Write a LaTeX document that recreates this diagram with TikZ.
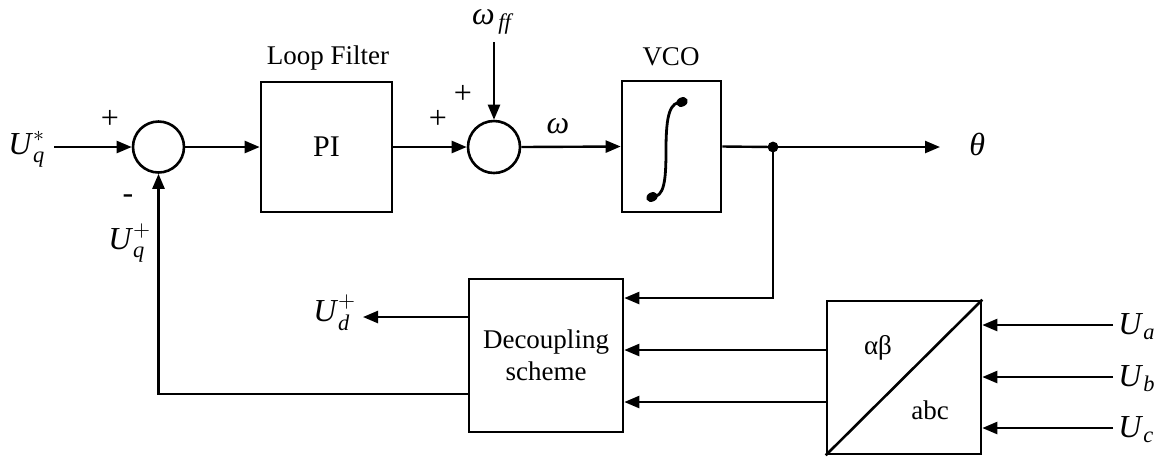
\documentclass[tikz,border=0pt]{standalone}
\usepackage{amsmath}
\usepackage{fontspec}
\setmainfont{Liberation Serif}
\usetikzlibrary{arrows.meta}
\begin{document}
\begin{tikzpicture}[x=0.5pt,y=-0.5pt,
  box/.style={draw, line width=1.3pt, inner sep=0pt},
  sumc/.style={draw, circle, line width=1.3pt, minimum size=25.5pt, inner sep=0pt},
  arr/.style={line width=1.2pt, -{Triangle[length=7.5pt,width=6pt]}},
  ln/.style={line width=1.2pt},
  lbl/.style={font=\fontsize{13.5}{16}\selectfont, inner sep=0pt},
  pm/.style={font=\fontsize{16}{18}\selectfont, inner sep=0pt},
  sym/.style={font=\fontsize{16}{18}\selectfont, inner sep=0pt}]
\useasboundingbox (0,0) rectangle (1161,457);

% blocks
\node[sumc] (s1) at (158.5,147) {};
\node[box, font=\fontsize{15}{17}\selectfont, minimum width=65.5pt, minimum height=65pt] (pi) at (326.5,147) {PI};
\node[sumc, minimum size=26pt] (s2) at (494,147) {};
\node[box, minimum width=49.5pt, minimum height=65.5pt] (vco) at (671.5,146.5) {};
\node[box, lbl, minimum width=77pt, minimum height=76.5pt, align=center] (dec) at (546,355.5) {Decoupling\\scheme};
\node[box, minimum width=77pt, minimum height=76.5pt] (tr) at (904,377.5) {};
\draw[line width=1.3pt] (tr.south west) -- (tr.north east);
\node[lbl] (ab) at (878,348) {αβ};
\node[lbl] (abc) at (930,410) {abc};

% integral symbol
\draw[line width=1.4pt] (652,197) .. controls (664,197) and (666,182) .. (666,150)
  .. controls (666,114) and (670,102) .. (682,102);
\fill[rotate around={25:(652,197)}] (652,197) ellipse (3pt and 2.3pt);
\fill[rotate around={25:(682,102)}] (682,102) ellipse (3pt and 2.3pt);

% labels
\node[lbl] (lf) at (328,58) {Loop Filter};
\node[lbl] (vcol) at (671,57) {VCO};
\node[sym, anchor=base west] (uqs) at (8,154) {\textit{U}$^{\ast}_{\textit{q}}$};
\node[sym, anchor=base west] (uqp) at (108,249) {\textit{U}$^{+}_{\textit{q}}$};
\node[sym, anchor=base west] (ud) at (313,321) {\textit{U}$^{+}_{\textit{d}}$};
\node[sym, anchor=base] (wff) at (492,24) {\textit{ω}$_{\,\textit{ff}}$};
\node[sym, anchor=base] (w) at (558,133) {\textit{ω}};
\node[sym, anchor=base west] (theta) at (969,155) {\textit{θ}};
\node[sym, anchor=base west] (ua) at (1118,334) {\textit{U}$_{\textit{a}}$};
\node[sym, anchor=base west] (ub) at (1118,386) {\textit{U}$_{\textit{b}}$};
\node[sym, anchor=base west] (uc) at (1118,437) {\textit{U}$_{\textit{c}}$};
\node[pm] (p1) at (110,119) {+};
\node[pm] (m1) at (128,199) {-};
\node[pm] (p2) at (438,119) {+};
\node[pm] (p3) at (463,94) {+};

% coordinates
\coordinate (uqa) at (54,147);
\coordinate (wffa) at (494,42);
\coordinate (j) at (773,147);
\coordinate (thend) at (940,147);
\coordinate (udt) at (363,317);
\coordinate (fb) at (158,394);
\coordinate (ina) at (1113,325);
\coordinate (inb) at (1113,377);
\coordinate (inc) at (1113,428);

% connectors
\draw[arr] (uqa) -- (s1.west);
\draw[arr] (s1.east) -- (pi.west);
\draw[arr] (pi.east) -- (s2.west);
\draw[arr] (wffa) -- (s2.north);
\draw[arr] (s2.east) -- (vco.west);
\draw[ln] (vco.east) -- (j);
\draw[arr] (j) -- (thend);
\fill (j) circle (2.7pt);
\draw[arr] (j) |- (dec.east |- 0,298);
\draw[arr] (tr.west |- 0,350) -- (dec.east |- 0,350);
\draw[arr] (tr.west |- 0,402) -- (dec.east |- 0,402);
\draw[arr] (dec.west |- udt) -- (udt);
\draw[arr] (dec.west |- fb) -| (s1.south);
\draw[arr] (ina) -- (tr.east |- ina);
\draw[arr] (inb) -- (tr.east |- inb);
\draw[arr] (inc) -- (tr.east |- inc);
\end{tikzpicture}
\end{document}
